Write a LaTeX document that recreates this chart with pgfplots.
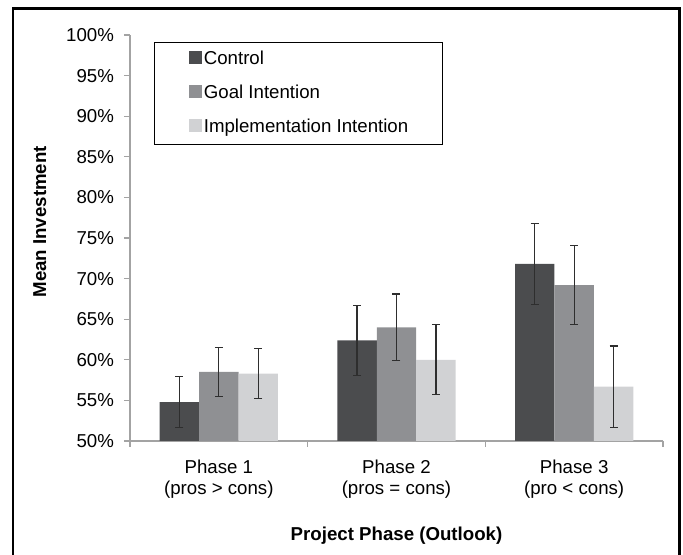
\documentclass[border=0pt]{standalone}
\usepackage{fontspec}
\setmainfont{Liberation Sans}
\usepackage{pgfplots}
\pgfplotsset{compat=1.18}

\definecolor{ctrl}{HTML}{4B4C4E}
\definecolor{goal}{HTML}{8F9093}
\definecolor{impl}{HTML}{D1D2D4}
\definecolor{axgray}{HTML}{A3A3A3}
\definecolor{errc}{HTML}{2E2E2E}

\pgfplotsset{
  sqleg/.style={legend image code/.code={%
      \fill[##1,draw=none] (0pt,-3pt) rectangle (9.4pt,6.4pt);
      \path (11pt,0pt);}},
}

\begin{document}
\begin{tikzpicture}
% page = reference image, 1px = 0.75pt, origin at the axis' lower left corner
\useasboundingbox (-97.5pt,-85.5pt) rectangle (414.75pt,330.75pt);
\begin{axis}[
    scale only axis,
    width=399.75pt, height=304.5pt,
    font=\fontsize{14}{16}\selectfont,
    /pgf/number format/assume math mode=true,
    ybar=0pt, bar width=0.222,
    xmin=0.5, xmax=3.5, ymin=50, ymax=100,
    axis lines*=left,
    axis line style={draw=axgray, line width=1.5pt},
    tick align=outside,
    major tick length=4.5pt, minor tick length=4.5pt,
    tick style={draw=axgray, line width=1pt},
    major x tick style={draw=none},
    xtick={1,2,3},
    minor xtick={0.5,1.5,2.5,3.5},
    xticklabels={{Phase 1\\(pros > cons)},{Phase 2\\(pros = cons)},{Phase 3\\(pro < cons)}},
    xticklabel style={align=center, font=\fontsize{14}{15.75}\selectfont, yshift=-6pt},
    ytick={50,55,...,100},
    yticklabel={\pgfmathprintnumber{\tick}\%},
    yticklabel style={xshift=-4pt},
    ylabel={\bfseries Mean Investment},
    ylabel style={at={(axis description cs:-0.169,0.54)}, anchor=center},
    xlabel={\bfseries Project Phase (Outlook)},
    xlabel style={at={(axis description cs:0.5,-0.232)}, anchor=center},
    legend style={at={(0.045,0.9835)}, anchor=north west, draw=black,
        line width=0.8pt, inner xsep=26pt, inner ysep=6.5pt, row sep=12.5pt,
        nodes={inner sep=0pt, text height=10pt, text depth=3pt},
        font=\fontsize{14}{16}\selectfont},
    legend cell align=left,
    error bars/y dir=both, error bars/y explicit,
    error bars/error bar style={line width=0.9pt, draw=errc},
    error bars/error mark options={rotate=90, mark size=3pt, line width=0.9pt, draw=errc},
]
\addplot[fill=ctrl, draw=none, sqleg] coordinates {
    (1,54.8) +- (0,3.1)
    (2,62.4) +- (0,4.3)
    (3,71.8) +- (0,5.0)
};
\addplot[fill=goal, draw=none, sqleg] coordinates {
    (1,58.5) +- (0,3.0)
    (2,64.0) +- (0,4.1)
    (3,69.2) +- (0,4.9)
};
\addplot[fill=impl, draw=none, sqleg] coordinates {
    (1,58.3) +- (0,3.1)
    (2,60.0) +- (0,4.3)
    (3,56.7) +- (0,5.0)
};
\legend{Control, Goal Intention, Implementation Intention}
\end{axis}
% outer frame, its bottom edge lies below the page as in the reference
\draw[line width=1.9pt] (-87.75pt,-95pt) -- (-87.75pt,324.4pt) -- (412.1pt,324.4pt) -- (412.1pt,-95pt);
\end{tikzpicture}
\end{document}
